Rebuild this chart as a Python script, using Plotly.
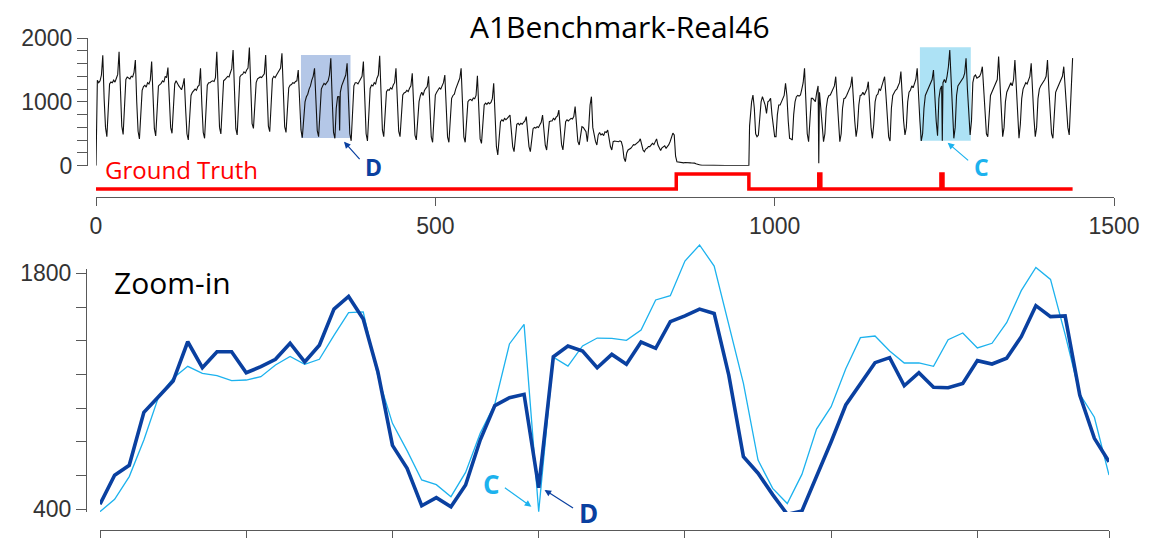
import plotly.graph_objects as go

W, H = 1150, 538

# A1Benchmark-Real46: readings every 2 hours, one row per day (h0, h2, ..., h22)
day_rows = [
    [0, 1340, 1300, 1330, 1420, 1730, 1050, 600, 455, 900, 1280, 1310],
    [1300, 1340, 1310, 1370, 1430, 1786, 1100, 620, 491, 950, 1350, 1390],
    [1380, 1360, 1400, 1390, 1460, 1656, 1000, 540, 418, 900, 1180, 1240],
    [1260, 1230, 1300, 1280, 1340, 1630, 1000, 580, 465, 920, 1250, 1270],
    [1290, 1330, 1310, 1400, 1380, 1536, 980, 600, 507, 900, 1280, 1330],
    [1300, 1250, 1220, 1190, 1260, 1369, 900, 500, 403, 760, 1100, 1150],
    [1170, 1200, 1180, 1240, 1260, 1525, 950, 520, 429, 900, 1260, 1300],
    [1300, 1320, 1330, 1320, 1380, 1786, 1100, 600, 497, 950, 1330, 1350],
    [1370, 1400, 1390, 1450, 1520, 1812, 1100, 580, 481, 1000, 1390, 1420],
    [1430, 1470, 1450, 1500, 1530, 1849, 1150, 660, 585, 1000, 1300, 1360],
    [1370, 1390, 1380, 1420, 1440, 1734, 1100, 620, 533, 950, 1360, 1400],
    [1380, 1420, 1460, 1500, 1530, 1760, 1100, 610, 522, 900, 1220, 1260],
    [1270, 1300, 1290, 1320, 1330, 1499, 1000, 560, 440, 700, 1000, 1080],
    [1120, 1200, 1250, 1340, 1400, 1525, 1000, 550, 454, 950, 1200, 1250],
    [1290, 1270, 1300, 1330, 1420, 1682, 1050, 520, 429, 900, 1080, 1081],
    [1150, 1250, 1300, 1342, 1420, 1603, 1000, 500, 390, 850, 1250, 1300],
    [1300, 1280, 1320, 1342, 1400, 1630, 1000, 500, 387, 900, 1210, 1264],
    [1250, 1300, 1280, 1370, 1420, 1723, 1050, 560, 455, 850, 1160, 1190],
    [1180, 1220, 1200, 1264, 1300, 1525, 950, 540, 455, 800, 1107, 1140],
    [1150, 1180, 1160, 1212, 1250, 1447, 900, 480, 403, 750, 1003, 1100],
    [1150, 1100, 1180, 1212, 1240, 1400, 850, 450, 366, 750, 1107, 1150],
    [1180, 1220, 1200, 1264, 1300, 1421, 900, 450, 366, 700, 1055, 1100],
    [1120, 1200, 1250, 1300, 1369, 1525, 900, 450, 366, 700, 1003, 1030],
    [1040, 1020, 1060, 1050, 1100, 1410, 800, 420, 350, 650, 951, 980],
    [960, 990, 970, 990, 1050, 1290, 700, 300, 168, 450, 690, 720],
    [700, 740, 720, 740, 760, 794, 550, 300, 220, 450, 650, 664],
    [640, 664, 650, 680, 700, 768, 520, 300, 220, 420, 580, 600],
    [590, 611, 600, 640, 680, 794, 500, 320, 246, 480, 690, 700],
    [700, 742, 720, 760, 780, 872, 560, 330, 246, 500, 690, 720],
    [700, 720, 742, 730, 770, 925, 600, 380, 324, 500, 611, 600],
    [560, 533, 376, 600, 950, 1081, 600, 470, 380, 324, 480, 520],
    [481, 500, 470, 530, 520, 559, 429, 300, 246, 376, 387, 380],
    [380, 376, 390, 376, 300, 120, 63, 200, 246, 260, 272, 300],
    [330, 324, 340, 350, 380, 420, 300, 246, 220, 260, 272, 300],
    [298, 320, 350, 330, 380, 420, 324, 272, 240, 280, 298, 310],
    [272, 300, 330, 380, 450, 511, 480, 150, 60, 55, 50, 50],
    [48, 45, 50, 46, 44, 48, 45, 43, 46, 40, 30, 20],
    [12, 10, 9, 8, 7, 7, 6, 6, 5, 5, 5, 5],
    [5, 4, 4, 4, 4, 3, 3, 3, 3, 3, 3, 3],
    [3, 3, 2, 2, 2, 2, 2, 2, 2, 2, 2, 3],
    [3, 5, 800, 1000, 1107, 900, 500, 454, 480, 700, 1000, 1081],
    [1000, 950, 820, 1000, 1020, 1055, 800, 600, 455, 455, 800, 951],
    [951, 1000, 1050, 1100, 1290, 1100, 700, 429, 420, 403, 800, 1000],
    [1081, 1100, 1090, 1107, 1200, 1300, 1525, 900, 500, 376, 700, 1055],
    [1055, 1030, 1003, 1150, 1250, 1150, 900, 600, 376, 500, 900, 1050],
    [1100, 1107, 1150, 1200, 1250, 1394, 1000, 700, 376, 500, 900, 1050],
    [1060, 1100, 1150, 1180, 1250, 1394, 1000, 700, 455, 600, 950, 1100],
    [1107, 1150, 1107, 1160, 1200, 1316, 900, 600, 429, 650, 1000, 1100],
    [1120, 1200, 1180, 1250, 1300, 1394, 1100, 750, 450, 387, 900, 1100],
    [1150, 1180, 1200, 1250, 1300, 1473, 1000, 700, 481, 600, 1000, 1150],
    [1180, 1250, 1220, 1300, 1350, 1525, 1050, 700, 387, 500, 900, 1100],
    [1150, 1200, 1250, 1300, 1350, 1499, 1000, 700, 470, 1050, 1200, 1250],
    [1300, 1350, 1300, 1400, 1550, 1812, 1300, 800, 429, 600, 1100, 1250],
    [1280, 1300, 1350, 1380, 1450, 1682, 1200, 800, 481, 700, 1300, 1400],
    [1420, 1370, 1380, 1400, 1450, 1551, 1200, 800, 500, 455, 900, 1100],
    [1150, 1200, 1250, 1280, 1350, 1708, 1200, 800, 455, 600, 1000, 1150],
    [1200, 1250, 1300, 1250, 1350, 1656, 1200, 800, 429, 650, 1050, 1200],
    [1250, 1300, 1280, 1330, 1400, 1604, 1100, 750, 455, 600, 1050, 1200],
    [1250, 1280, 1300, 1350, 1400, 1656, 1200, 800, 500, 429, 900, 1150],
    [1200, 1250, 1300, 1350, 1400, 1551, 1200, 900, 600, 481, 1100, 1550],
]
# single-hour readings between the 2-hour samples (hour, value)
extra_hours = [1, 359, 963, 1065, 1247, 1439]
extra_values = [1340, 550, 620, 40, 390, 1685]

# labelled anomaly windows (start hour, end hour)
gt_starts = [855, 1065, 1245]
gt_ends = [962, 1068, 1248]
series_end = 1439

# highlighted windows: hours and value span
d_window = [302, 375, 434, 1734]
c_window = [1214, 1289, 392, 1854]

# 70-hour windows shown in the zoom-in panel
zoom_d = [430, 602, 661, 975, 1068, 1161, 1394, 1240, 1335, 1335,
          1210, 1246, 1290, 1385, 1274, 1373, 1588, 1663, 1529, 1216,
          779, 643, 421, 469, 415, 544, 811, 1015, 1062, 1082,
          528, 1305, 1369, 1339, 1240, 1319, 1260, 1392, 1355, 1513,
          1547, 1588, 1562, 1196, 712, 614, 487, 370, 390, 593,
          801, 1019, 1147, 1270, 1300, 1133, 1210, 1124, 1121, 1147,
          1282, 1262, 1296, 1424, 1608, 1543, 1547, 1078, 821, 682]
zoom_c = [386, 459, 594, 811, 1066, 1177, 1248, 1207, 1193, 1163,
          1167, 1187, 1256, 1307, 1260, 1290, 1432, 1567, 1571, 1191,
          910, 748, 574, 546, 475, 619, 851, 1025, 1381, 1497,
          386, 1303, 1250, 1369, 1416, 1414, 1402, 1464, 1642, 1667,
          1873, 1968, 1843, 1503, 1147, 692, 524, 434, 607, 876,
          1009, 1234, 1418, 1428, 1339, 1268, 1268, 1248, 1406, 1446,
          1357, 1385, 1507, 1697, 1835, 1764, 1438, 1084, 946, 603]

top_y_ticks = [0, 1000, 2000]
top_x_ticks = [0, 500, 1000, 1500]
zoom_y_ticks = [400, 1800]
zoom_x_ticks = [0, 10, 20, 30, 40, 50, 60, 69]

DARK = "#0a40a0"
LIGHT = "#1cb2ee"
AXIS = "#595959"
TICKFONT = dict(family="Liberation Sans, Arial", size=23, color="#333333")
TEXTFONT = "Open Sans"


def px_x(p):
    return p / W


def px_y(p):
    return 1 - p / H


# assemble the hourly series
points = {}
for d, row in enumerate(day_rows):
    for j, val in enumerate(row):
        points[24 * d + 2 * j] = val
for h, val in zip(extra_hours, extra_values):
    points[h] = val
series_t = sorted(points)
series_v = [points[h] for h in series_t]

gt_x, gt_y = [0], [0]
for a, b in zip(gt_starts, gt_ends):
    gt_x += [a, b]
    gt_y += [1, 0]
gt_x.append(series_end)
gt_y.append(0)

fig = go.Figure()
fig.add_trace(go.Scatter(x=series_t, y=series_v, mode="lines",
                         line=dict(color="#111111", width=1.1),
                         xaxis="x", yaxis="y", hoverinfo="skip"))
fig.add_trace(go.Scatter(x=gt_x, y=gt_y, mode="lines", line_shape="hv",
                         line=dict(color="#ff0000", width=3.5),
                         xaxis="x", yaxis="y2", hoverinfo="skip"))
idx = list(range(len(zoom_d)))
fig.add_trace(go.Scatter(x=[], y=[], xaxis="x2", yaxis="y3", showlegend=False))
fig.add_trace(go.Scatter(x=idx, y=zoom_c, mode="lines",
                         line=dict(color=LIGHT, width=1.3),
                         xaxis="x2", yaxis="y4", hoverinfo="skip"))
fig.add_trace(go.Scatter(x=idx, y=zoom_d, mode="lines",
                         line=dict(color=DARK, width=3.6),
                         xaxis="x2", yaxis="y4", hoverinfo="skip"))

fig.add_shape(type="rect", xref="x", yref="y", x0=d_window[0], x1=d_window[1],
              y0=d_window[2], y1=d_window[3], fillcolor="#b4c7e7",
              line_width=0, layer="below")
fig.add_shape(type="rect", xref="x", yref="y", x0=c_window[0], x1=c_window[1],
              y0=c_window[2], y1=c_window[3], fillcolor="#ade2f5",
              line_width=0, layer="below")

axis_common = dict(showgrid=False, zeroline=False, showline=True,
                   linecolor=AXIS, linewidth=1, ticks="outside",
                   tickcolor=AXIS, tickfont=TICKFONT, automargin=False)

fig.update_layout(
    width=W, height=H,
    margin=dict(l=0, r=0, t=0, b=0, pad=0, autoexpand=False),
    paper_bgcolor="white", plot_bgcolor="white", showlegend=False,
    xaxis=dict(axis_common, domain=[px_x(96), px_x(1114)], range=[0, 1500],
               anchor="free", position=px_y(197), tickvals=top_x_ticks,
               ticklen=8),
    yaxis=dict(axis_common, domain=[px_y(165.7), px_y(38)], range=[0, 2000],
               anchor="free", position=px_x(87), tickvals=top_y_ticks,
               ticklen=10,
               minor=dict(ticks="outside", ticklen=10, tickcolor=AXIS,
                          tick0=0, dtick=200, showgrid=False)),
    yaxis2=dict(domain=[px_y(197), px_y(166)], range=[-0.533, 1.533],
                visible=False, anchor="x"),
    xaxis2=dict(axis_common, domain=[px_x(100), px_x(1109)], range=[0, 69],
                anchor="free", position=px_y(530), tickvals=zoom_x_ticks,
                showticklabels=False, ticklen=10),
    yaxis3=dict(axis_common, domain=[px_y(512), px_y(269)],
                range=[384, 1825.5], anchor="free", position=px_x(86),
                tickvals=zoom_y_ticks, ticklen=10,
                minor=dict(ticks="outside", ticklen=10, tickcolor=AXIS,
                           tick0=0, dtick=200, showgrid=False)),
    yaxis4=dict(domain=[px_y(512), px_y(240)], range=[384, 1997.6],
                visible=False, anchor="x2"),
)

texts = [
    ("A1Benchmark-Real46", 620, 27, 30, "#000000", False),
    ("Zoom-in", 172, 282, 30, "#000000", False),
    ("Ground Truth", 181, 169, 24, "#ff0000", False),
    ("D", 373, 167, 23, DARK, True),
    ("C", 981, 167, 23, LIGHT, True),
    ("C", 491, 484, 26, LIGHT, True),
    ("D", 588, 513, 26, DARK, True),
]
for t, x, y, s, c, b in texts:
    fig.add_annotation(text=f"<b>{t}</b>" if b else t, xref="paper", yref="paper",
                       x=px_x(x), y=px_y(y), xanchor="center", yanchor="middle",
                       showarrow=False,
                       font=dict(family=TEXTFONT, size=s, color=c))

arrows = [
    ("x", "y", 365.4, 376, 17, 19, DARK),
    ("x", "y", 1254.9, 360, 22, 19, LIGHT),
    ("x2", "y4", 29.5, 415, -28, -20, LIGHT),
    ("x2", "y4", 30.4, 515, 30, 19, DARK),
]
for xr, yr, x, y, ax, ay, c in arrows:
    fig.add_annotation(text="", xref=xr, yref=yr, x=x, y=y, ax=ax, ay=ay,
                       showarrow=True, arrowhead=2, arrowsize=1.1,
                       arrowwidth=1.2, arrowcolor=c)

fig.write_html("out.html")
